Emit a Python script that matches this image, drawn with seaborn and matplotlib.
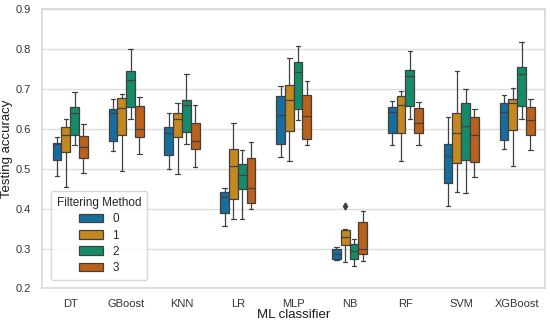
import seaborn as sns
import pandas as pd
import matplotlib.pyplot as plt

# Classifiers and filtering methods
classifiers = ["DT", "GBoost", "KNN", "LR", "MLP", "NB", "RF", "SVM", "XGBoost"]
methods = ["0", "1", "2", "3"]

# Box summaries, one row per classifier, one column per method
lows = [
    [0.483, 0.455, 0.560, 0.490],
    [0.545, 0.494, 0.626, 0.537],
    [0.500, 0.487, 0.562, 0.505],
    [0.357, 0.373, 0.375, 0.398],
    [0.530, 0.519, 0.622, 0.560],
    [0.270, 0.265, 0.256, 0.268],
    [0.560, 0.519, 0.626, 0.559],
    [0.407, 0.443, 0.440, 0.480],
    [0.550, 0.507, 0.624, 0.547],
]
q1s = [
    [0.521, 0.541, 0.586, 0.528],
    [0.570, 0.584, 0.656, 0.579],
    [0.534, 0.579, 0.593, 0.550],
    [0.388, 0.423, 0.449, 0.413],
    [0.562, 0.596, 0.651, 0.575],
    [0.274, 0.310, 0.273, 0.285],
    [0.590, 0.590, 0.657, 0.590],
    [0.465, 0.514, 0.522, 0.518],
    [0.572, 0.597, 0.657, 0.586],
]
medians = [
    [0.563, 0.585, 0.639, 0.555],
    [0.641, 0.653, 0.724, 0.601],
    [0.591, 0.626, 0.660, 0.570],
    [0.428, 0.508, 0.485, 0.453],
    [0.636, 0.672, 0.744, 0.633],
    [0.286, 0.330, 0.294, 0.300],
    [0.643, 0.661, 0.733, 0.616],
    [0.532, 0.590, 0.608, 0.585],
    [0.643, 0.664, 0.738, 0.622],
]
q3s = [
    [0.566, 0.606, 0.656, 0.582],
    [0.649, 0.678, 0.746, 0.657],
    [0.604, 0.641, 0.672, 0.616],
    [0.443, 0.550, 0.511, 0.528],
    [0.682, 0.710, 0.769, 0.685],
    [0.298, 0.347, 0.311, 0.366],
    [0.654, 0.683, 0.748, 0.652],
    [0.562, 0.641, 0.666, 0.631],
    [0.666, 0.674, 0.756, 0.654],
]
highs = [
    [0.580, 0.626, 0.692, 0.613],
    [0.674, 0.687, 0.800, 0.679],
    [0.639, 0.664, 0.739, 0.659],
    [0.453, 0.616, 0.547, 0.567],
    [0.708, 0.779, 0.809, 0.720],
    [0.305, 0.348, 0.323, 0.393],
    [0.671, 0.694, 0.795, 0.668],
    [0.631, 0.746, 0.699, 0.651],
    [0.684, 0.702, 0.819, 0.676],
]
# (classifier, method, value)
outliers = [("NB", "1", 0.407)]

# Expand each summary into observations that give the same quartiles
rows = []
for i, clf in enumerate(classifiers):
    for j, m in enumerate(methods):
        top = highs[i][j]
        for oc, om, ov in outliers:
            if oc == clf and om == m:
                top = ov
        vals = [lows[i][j], q1s[i][j], q1s[i][j], medians[i][j], medians[i][j],
                q3s[i][j], q3s[i][j], highs[i][j], top]
        for v in vals:
            rows.append({"ML classifier": clf, "Filtering Method": m, "Testing accuracy": v})
df = pd.DataFrame(rows)

sns.set_theme(style="whitegrid", rc={"grid.color": "0.87", "axes.edgecolor": "0.85"})
plt.rcParams['font.family'] = ['Liberation Sans', 'DejaVu Sans']

fig, ax = plt.subplots(figsize=(5.5, 3.24), dpi=100)
fig.subplots_adjust(left=0.077, right=0.991, top=0.971, bottom=0.11)

sns.boxplot(
    data=df, x="ML classifier", y="Testing accuracy", hue="Filtering Method",
    palette="colorblind", width=0.63, linewidth=0.9, linecolor="0.25",
    flierprops=dict(marker="d", markersize=3.5, markerfacecolor="0.25", markeredgecolor="0.25"),
    ax=ax,
)

ax.set_ylim(0.2, 0.9)
ax.set_yticks([0.2, 0.3, 0.4, 0.5, 0.6, 0.7, 0.8, 0.9])
ax.tick_params(axis="both", labelsize=8, pad=2, colors="0.2")
ax.set_xlabel("ML classifier", fontsize=9.5, labelpad=0, color="0.1")
ax.set_ylabel("Testing accuracy", fontsize=9.5, labelpad=2, color="0.1")

leg = ax.legend(title="Filtering Method", fontsize=8.5, title_fontsize=8.5,
                loc="lower left", bbox_to_anchor=(0.005, 0.01),
                handlelength=2.0, labelspacing=0.35, borderpad=0.5)

fig.savefig("out.png", dpi=100)
